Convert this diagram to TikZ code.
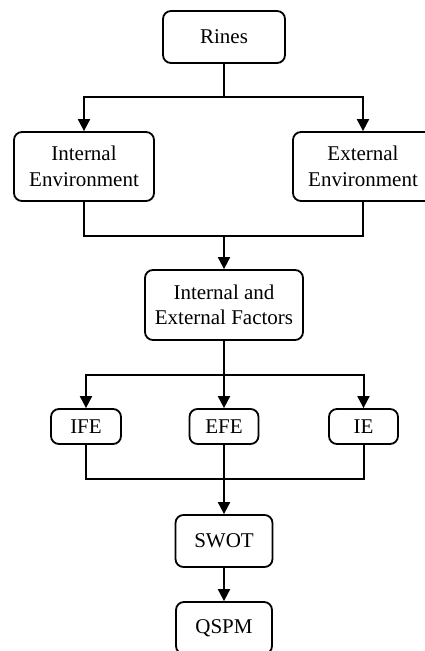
\documentclass[tikz,border=0pt]{standalone}
\usepackage{fontspec}
\setmainfont{Liberation Serif}
\usetikzlibrary{arrows.meta}
\begin{document}
\begin{tikzpicture}[x=1pt,y=-1pt,
  box/.style={draw, line width=1.8pt, rounded corners=8pt, align=center,
    inner sep=0pt, font=\fontsize{21}{25.5}\selectfont},
  conn/.style={line width=2pt},
  arr/.style={conn, -{Triangle[length=12pt,width=12pt]}}]
\useasboundingbox (0,0) rectangle (425,651);
\node[box, minimum width=122pt, minimum height=52pt] (rines) at (224,37) {Rines};
\node[box, minimum width=140pt, minimum height=69pt] (int) at (84,166.5) {Internal\\Environment};
\node[box, minimum width=140pt, minimum height=69pt] (ext) at (363,166.5) {External\\Environment};
\node[box, minimum width=158pt, minimum height=70pt] (fac) at (224,305) {Internal and\\External Factors};
\node[box, minimum width=70pt, minimum height=35pt] (ife) at (86,426.5) {IFE};
\node[box, minimum width=69pt, minimum height=35pt] (efe) at (224,426.5) {EFE};
\node[box, minimum width=69pt, minimum height=35pt] (ie) at (363.5,426.5) {IE};
\node[box, minimum width=97pt, minimum height=52pt] (swot) at (224,541) {SWOT};
\node[box, minimum width=96pt, minimum height=52pt] (qspm) at (224,628) {QSPM};
\coordinate (j1) at (224,97);
\coordinate (j2) at (224,236);
\coordinate (j3) at (224,375);
\coordinate (j4) at (224,479);
\draw[conn] (rines.south) -- (j1);
\draw[arr] (j1) -| (int.north);
\draw[arr] (j1) -| (ext.north);
\draw[conn] (int.south) |- (j2) -| (ext.south);
\draw[arr] (j2) -- (fac.north);
\draw[conn] (fac.south) -- (j3);
\draw[arr] (j3) -| (ife.north);
\draw[arr] (j3) -- (efe.north);
\draw[arr] (j3) -| (ie.north);
\draw[conn] (ife.south) |- (j4) -| (ie.south);
\draw[arr] (efe.south) -- (swot.north);
\draw[arr] (swot.south) -- (qspm.north);
\end{tikzpicture}
\end{document}
